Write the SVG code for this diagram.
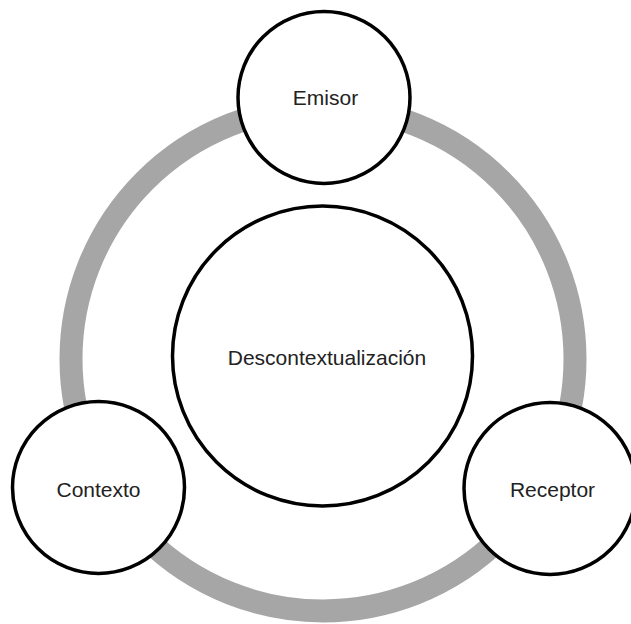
<svg xmlns="http://www.w3.org/2000/svg" width="631" height="624" viewBox="0 0 631 624">
<style>
.node{fill:#fff;stroke:#000;stroke-width:3.5}
.lbl{font-family:"Liberation Sans",Arial,sans-serif;font-size:21px;fill:#222;text-anchor:middle}
.ring{fill:none;stroke:#a6a6a6;stroke-width:23}
</style>
<rect width="631" height="624" fill="#fff"/>
<g id="connectors">
<circle class="ring" cx="323" cy="359" r="252"/>
</g>
<g id="emisor">
<circle class="node" cx="324" cy="97.5" r="86"/>
<text class="lbl" x="325.5" y="105">Emisor</text>
</g>
<g id="descontextualizacion">
<circle class="node" cx="322.5" cy="356" r="150"/>
<text class="lbl" x="327" y="365">Descontextualización</text>
</g>
<g id="contexto">
<circle class="node" cx="98.5" cy="487.5" r="86"/>
<text class="lbl" x="98.5" y="497">Contexto</text>
</g>
<g id="receptor">
<circle class="node" cx="550" cy="488.5" r="86"/>
<text class="lbl" x="552.5" y="497">Receptor</text>
</g>
</svg>
